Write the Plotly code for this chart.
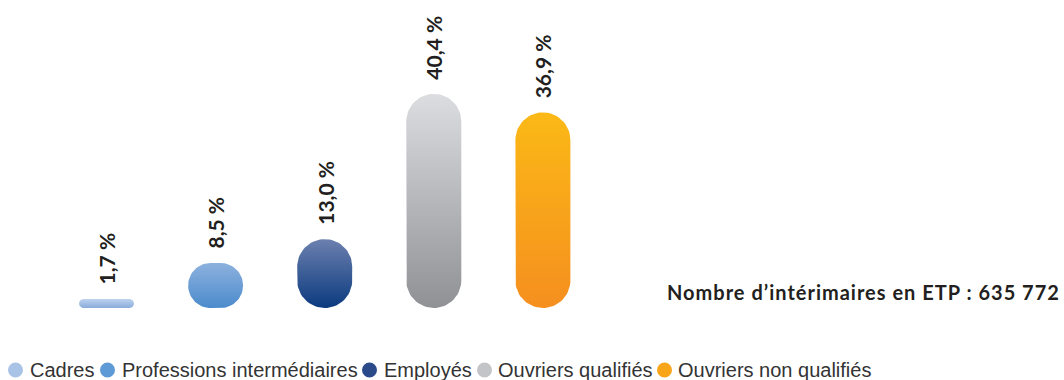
import math
import plotly.graph_objects as go

# Répartition des intérimaires par qualification (en % des ETP)
categories = ["Cadres", "Professions intermédiaires", "Employés",
              "Ouvriers qualifiés", "Ouvriers non qualifiés"]
shares = [1.7, 8.5, 13.0, 40.4, 36.9]
share_labels = ["1,7 %", "8,5 %", "13,0 %", "40,4 %", "36,9 %"]
total_label = "Nombre d’intérimaires en ETP : 635 772"

# Vertical gradient of each pill (top colour, bottom colour) and legend dot colour
top_colors = ["#bdd2ef", "#8db1de", "#6c80af", "#dcdde0", "#fbb916"]
bottom_colors = ["#8aacda", "#4b8bcc", "#0b3a7f", "#909195", "#f58f1f"]
legend_colors = ["#a9c3e7", "#5e9ad6", "#2a4a8a", "#c3c4c7", "#f9a51a"]

# Page geometry (pixels)
W, H = 1064, 380
X_FIRST = 106.5   # centre of the first pill
X_STEP = 109.1    # distance between pill centres
Y_BASE = 308      # baseline of the pills, from the top of the page
Y_SCALE = 5.3     # pixels per percentage point
BAR_W = 55        # pill width

# Legend row: left edge of each dot, text start, vertical centre, dot size
LEGEND_DOT_X = [8, 100, 362, 477, 657]
LEGEND_TEXT_X = [29, 121, 383, 497, 677]
LEGEND_Y = 370
LEGEND_DOT = 15

x_range = [-X_FIRST / X_STEP, (W - X_FIRST) / X_STEP]
y_range = [-(H - Y_BASE) / Y_SCALE, Y_BASE / Y_SCALE]


def pill_outline(i, value, n=18):
    """Rounded-rectangle outline for category i, in data units."""
    h = value * Y_SCALE
    r = min(BAR_W / 2, h / 2)
    hx = BAR_W / 2 - r
    corners = [(hx, h - r, 0, 90), (-hx, h - r, 90, 180),
               (-hx, r, 180, 270), (hx, r, 270, 360)]
    pts = []
    for cx, cy, a0, a1 in corners:
        for k in range(n + 1):
            a = math.radians(a0 + (a1 - a0) * k / n)
            pts.append((cx + r * math.cos(a), cy + r * math.sin(a)))
    pts.append(pts[0])
    xs = [i + px / X_STEP for px, _ in pts]
    ys = [py / Y_SCALE for _, py in pts]
    return xs, ys


fig = go.Figure()

for i, (cat, v) in enumerate(zip(categories, shares)):
    xs, ys = pill_outline(i, v)
    fig.add_trace(go.Scatter(
        x=xs, y=ys, mode="lines", fill="toself", name=cat,
        line=dict(width=0, color=bottom_colors[i]),
        fillgradient=dict(type="vertical",
                          colorscale=[[0, bottom_colors[i]], [1, top_colors[i]]]),
        hoverinfo="skip", showlegend=False,
    ))
    fig.add_annotation(
        x=i, y=v, xref="x", yref="y", text=share_labels[i],
        textangle=-90, xanchor="center", yanchor="bottom", yshift=12,
        showarrow=False,
        font=dict(family="Lato", size=21, color="#231f20", weight="bold"),
    )

# Total headcount
fig.add_annotation(
    x=1062 / W, y=(H - 292) / H, xref="paper", yref="paper",
    xanchor="right", yanchor="middle",
    text=f"<span style='letter-spacing:1px'>{total_label}</span>",
    showarrow=False,
    font=dict(family="Lato", size=20, color="#231f20", weight="bold"),
)

# Legend row
for k, cat in enumerate(categories):
    fig.add_shape(
        type="circle", xref="paper", yref="paper",
        x0=LEGEND_DOT_X[k] / W, x1=(LEGEND_DOT_X[k] + LEGEND_DOT) / W,
        y0=(H - LEGEND_Y - LEGEND_DOT / 2) / H, y1=(H - LEGEND_Y + LEGEND_DOT / 2) / H,
        fillcolor=legend_colors[k], line=dict(width=0),
    )
    fig.add_annotation(
        x=LEGEND_TEXT_X[k] / W, y=(H - LEGEND_Y) / H, xref="paper", yref="paper",
        xanchor="left", yanchor="middle", text=cat, showarrow=False,
        borderpad=0,
        font=dict(family="Liberation Sans", size=20, color="#333333"),
    )

fig.update_layout(
    width=W, height=H,
    margin=dict(l=0, r=0, t=0, b=0),
    paper_bgcolor="white", plot_bgcolor="white",
    showlegend=False,
    xaxis=dict(range=x_range, visible=False, fixedrange=True),
    yaxis=dict(range=y_range, visible=False, fixedrange=True),
)

fig.write_html("out.html")
